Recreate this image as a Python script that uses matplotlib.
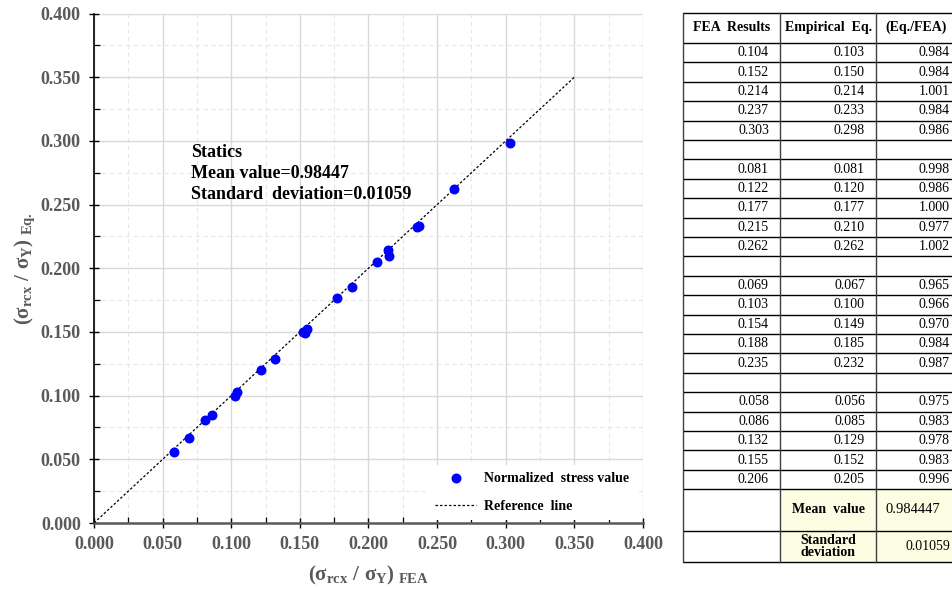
import matplotlib
matplotlib.use("Agg")
import matplotlib.pyplot as plt
from matplotlib.ticker import MultipleLocator, FormatStrFormatter
from matplotlib.patches import Rectangle

# ---- data: four groups of normalized stress (FEA vs. empirical equation) ----
fea_g1 = [0.104, 0.152, 0.214, 0.237, 0.303]
eq_g1 = [0.103, 0.150, 0.214, 0.233, 0.298]
ratio_g1 = [0.984, 0.984, 1.001, 0.984, 0.986]

fea_g2 = [0.081, 0.122, 0.177, 0.215, 0.262]
eq_g2 = [0.081, 0.120, 0.177, 0.210, 0.262]
ratio_g2 = [0.998, 0.986, 1.000, 0.977, 1.002]

fea_g3 = [0.069, 0.103, 0.154, 0.188, 0.235]
eq_g3 = [0.067, 0.100, 0.149, 0.185, 0.232]
ratio_g3 = [0.965, 0.966, 0.970, 0.984, 0.987]

fea_g4 = [0.058, 0.086, 0.132, 0.155, 0.206]
eq_g4 = [0.056, 0.085, 0.129, 0.152, 0.205]
ratio_g4 = [0.975, 0.983, 0.978, 0.983, 0.996]

mean_value = "0.984447"
std_value = "0.01059"
ref_line = [0.0, 0.35]

table_header = ["FEA  Results", "Empirical  Eq.", "(Eq./FEA)"]

SERIF = "Liberation Serif"
GREY = "#595959"

plt.rcParams["font.family"] = SERIF
plt.rcParams["mathtext.fontset"] = "custom"
plt.rcParams["mathtext.rm"] = "Liberation Serif:bold"
plt.rcParams["mathtext.it"] = "Liberation Serif:bold"
plt.rcParams["mathtext.bf"] = "Liberation Serif:bold"

fig = plt.figure(figsize=(9.53, 5.89), dpi=100)
W, H = 953, 589

# ---- scatter plot ----
ax = fig.add_axes([94 / W, 1 - 523 / H, (643 - 94) / W, (523 - 13.5) / H])
ax.set_xlim(0, 0.4)
ax.set_ylim(0, 0.4)

fea_all = fea_g1 + fea_g2 + fea_g3 + fea_g4
eq_all = eq_g1 + eq_g2 + eq_g3 + eq_g4

ax.scatter(fea_all, eq_all, s=38, color="#0000ff", zorder=4,
           label="Normalized  stress value")
ax.plot(ref_line, ref_line, color="black", linestyle=(0, (2.0, 1.6)),
        linewidth=0.9, zorder=3, label="Reference  line")

ax.xaxis.set_major_locator(MultipleLocator(0.05))
ax.yaxis.set_major_locator(MultipleLocator(0.05))
ax.xaxis.set_minor_locator(MultipleLocator(0.025))
ax.yaxis.set_minor_locator(MultipleLocator(0.025))
ax.xaxis.set_major_formatter(FormatStrFormatter("%.3f"))
ax.yaxis.set_major_formatter(FormatStrFormatter("%.3f"))

ax.grid(which="major", color="#d9d9d9", linewidth=1.0, zorder=0)
ax.grid(which="minor", color="#e6e6e6", linewidth=0.8, linestyle=(0, (4, 3)), zorder=0)
ax.set_axisbelow(True)

for s in ("top", "right"):
    ax.spines[s].set_visible(False)
ax.spines["left"].set_color("black")
ax.spines["left"].set_linewidth(1.2)
ax.spines["bottom"].set_color(GREY)
ax.spines["bottom"].set_linewidth(1.8)

ax.tick_params(which="major", direction="inout", length=7, width=1.0, color="black",
               labelsize=13, labelcolor=GREY, pad=6)
ax.tick_params(which="minor", direction="in", length=4, width=0.9, color="black")
for lab in ax.get_xticklabels() + ax.get_yticklabels():
    lab.set_fontweight("bold")
    lab.set_fontfamily(SERIF)

ax.set_xlabel(r"$(\sigma_{\rm rcx}\ /\ \sigma_{\rm Y})_{\ \rm FEA}$", fontsize=15,
              color=GREY, labelpad=8)
ax.set_ylabel(r"$(\sigma_{\rm rcx}\ /\ \sigma_{\rm Y})_{\ \rm Eq.}$", fontsize=15,
              color=GREY, labelpad=3)

ax.text(0.0707, 0.2975, "Statics\nMean value=0.98447\nStandard  deviation=0.01059",
        fontsize=13, fontweight="bold", family=SERIF, color="black",
        va="top", ha="left", linespacing=1.3, zorder=5)

leg = ax.legend(loc="lower right", bbox_to_anchor=(1.0, -0.008), frameon=True,
                facecolor="white", edgecolor="none", framealpha=1.0,
                prop={"family": SERIF, "weight": "bold", "size": 10},
                handlelength=2.9, handletextpad=0.6, labelspacing=1.1,
                scatterpoints=1, borderpad=0.5, fancybox=False)
leg.set_zorder(6)

# ---- results table (pixel coordinates on an overlay) ----
tx = fig.add_axes([0, 0, 1, 1])
tx.set_xlim(0, W)
tx.set_ylim(H, 0)
tx.axis("off")

col_x = [683, 780.5, 876.5, 968]
top = 12.5
head_bot = 43
row_h = 19.4

groups = [(fea_g1, eq_g1, ratio_g1), (fea_g2, eq_g2, ratio_g2),
          (fea_g3, eq_g3, ratio_g3), (fea_g4, eq_g4, ratio_g4)]
rows = []
for gi, (f, e, r) in enumerate(groups):
    for a, b, c in zip(f, e, r):
        rows.append((f"{a:.3f}", f"{b:.3f}", f"{c:.3f}"))
    if gi < len(groups) - 1:
        rows.append(None)

data_bot = head_bot + row_h * len(rows)
mean_bot = data_bot + 41.5
std_bot = mean_bot + 31.5

# shaded summary cells
tx.add_patch(Rectangle((col_x[1], data_bot), col_x[3] - col_x[1], std_bot - data_bot,
                       facecolor="#fdfde3", edgecolor="none", zorder=1))

hlines = [top, head_bot] + [head_bot + row_h * (i + 1) for i in range(len(rows))] + \
         [mean_bot, std_bot]
for y in hlines:
    tx.plot([col_x[0], col_x[3]], [y, y], color="black", linewidth=1.0, zorder=2,
            solid_capstyle="butt")
for x in col_x:
    tx.plot([x, x], [top, std_bot], color="#404040", linewidth=1.0, zorder=2)

hy = (top + head_bot) / 2
for i, label in enumerate(table_header):
    tx.text((col_x[i] + col_x[i + 1]) / 2 if i < 2 else 916, hy, label,
            fontsize=10, fontweight="bold", family=SERIF, ha="center", va="center",
            zorder=3)

right_pad = [769, 865, 950]
for i, row in enumerate(rows):
    if row is None:
        continue
    yc = head_bot + row_h * (i + 0.5)
    for j, val in enumerate(row):
        tx.text(right_pad[j], yc, val, fontsize=10, family=SERIF, ha="right",
                va="center", zorder=3)

my = (data_bot + mean_bot) / 2
sy = (mean_bot + std_bot) / 2
tx.text((col_x[1] + col_x[2]) / 2, my, "Mean  value", fontsize=10, fontweight="bold",
        family=SERIF, ha="center", va="center", zorder=3)
tx.text(886, my, mean_value, fontsize=10.5, family=SERIF, ha="left", va="center", zorder=3)
tx.text((col_x[1] + col_x[2]) / 2, sy, "Standard\ndeviation", fontsize=10,
        fontweight="bold", family=SERIF, ha="center", va="center", linespacing=0.95,
        zorder=3)
tx.text(928, sy, std_value, fontsize=10, family=SERIF, ha="center", va="center", zorder=3)

fig.savefig("out.png", dpi=100)
